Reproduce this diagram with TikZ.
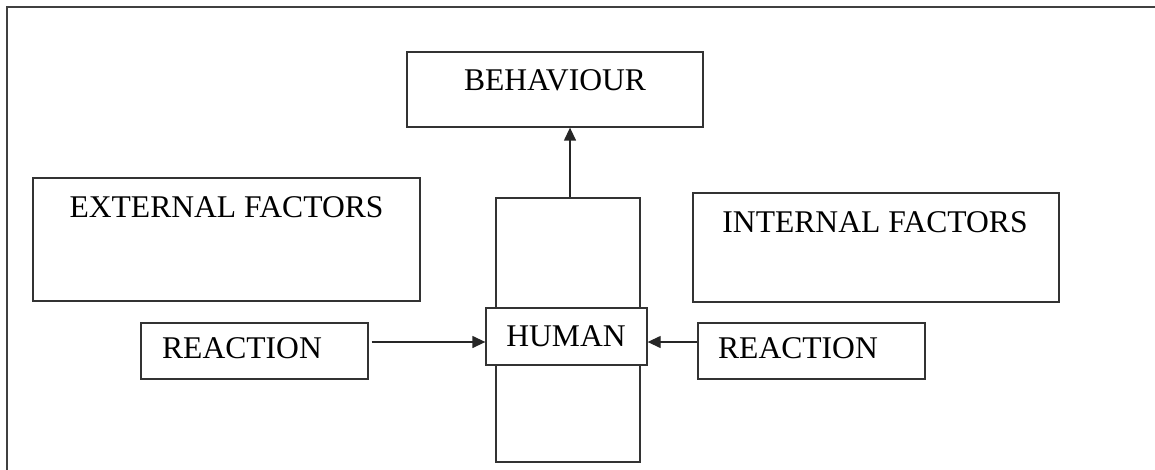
\documentclass[tikz,border=0pt]{standalone}
\usepackage{fontspec}
\setmainfont{Liberation Serif}
\usetikzlibrary{arrows.meta}

\tikzset{
  box/.style={draw=black!80, line width=0.65pt, fill=white, inner sep=0pt},
  txt/.style={inner sep=0pt, text height=0.66em, text depth=0pt, font=\fontsize{15.8}{19}\selectfont},
  arr/.style={draw=black!85, line width=0.65pt, -{Triangle[length=6.5pt,width=6pt]}},
}

\begin{document}
\begin{tikzpicture}[x=0.5pt,y=-0.5pt]
\useasboundingbox (0,0) rectangle (1155,470);
% Outer frame (cut off at right and bottom)
\draw[black!75, line width=1pt] (1155,7) -- (7,7) -- (7,470);

% Behaviour
\node[box, minimum width=148pt, minimum height=37.5pt] (behav) at (555,89.5) {};
\node[txt] (behavT) at (555,84) {BEHAVIOUR};

% Factors
\node[box, minimum width=193.5pt, minimum height=61.5pt] (ext) at (226.5,239.5) {};
\node[txt] (extT) at (226.5,211) {EXTERNAL FACTORS};
\node[box, minimum width=183pt, minimum height=54.5pt] (int) at (876,247.5) {};
\node[txt] (intT) at (875,226) {INTERNAL FACTORS};

% Human
\node[box, minimum width=72pt, minimum height=132pt] (tall) at (568,330) {};
\node[box, minimum width=80.5pt, minimum height=28.5pt] (hum) at (566.5,336.5) {};
\node[txt] (humT) at (566,340) {HUMAN};

% Reactions
\node[box, minimum width=113.5pt, minimum height=28pt] (reacL) at (254.5,351) {};
\node[txt] (reacLT) at (242,352) {REACTION};
\node[box, minimum width=113.5pt, minimum height=28pt] (reacR) at (811.5,351) {};
\node[txt] (reacRT) at (798,352) {REACTION};

% Arrows
\draw[arr] ([xshift=1.5pt,yshift=4.5pt]reacL.east) -- ([yshift=4.5pt]reacL.east -| hum.west);
\draw[arr] ([yshift=4.5pt]reacR.west) -- ([yshift=4.5pt]reacR.west -| hum.east);
\draw[arr] ([xshift=1pt]tall.north) -- ([xshift=1pt]tall.north |- behav.south);

\end{tikzpicture}
\end{document}
